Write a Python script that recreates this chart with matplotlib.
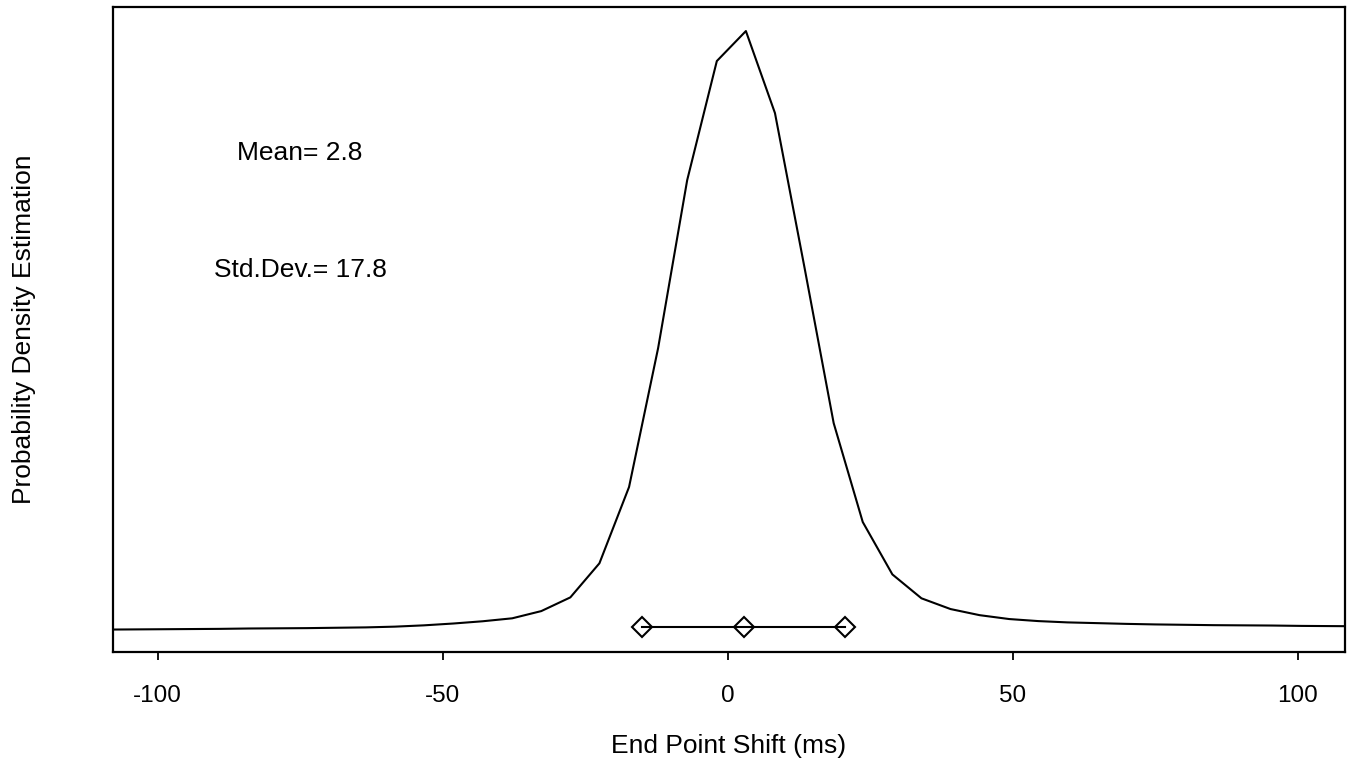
import matplotlib
matplotlib.use("Agg")
import matplotlib.pyplot as plt

plt.rcParams['font.family'] = ['Liberation Sans', 'DejaVu Sans']

# Estimated density curve (End Point Shift in ms vs. density)
shift_ms = [-109.7, -104.6, -99.4, -94.3, -89.2, -84.0, -78.9, -73.8, -68.7, -63.5,
            -58.4, -53.3, -48.1, -43.0, -37.8, -32.7, -27.6, -22.5, -17.3, -12.2,
            -7.1, -1.9, 3.2, 8.3, 13.5, 18.6, 23.7, 28.9, 34.0, 39.1,
            44.2, 49.4, 54.5, 59.6, 64.8, 69.9, 75.0, 80.1, 85.3, 90.4,
            95.5, 100.7, 105.8, 110.9]
density = [0.00008, 0.00009, 0.00010, 0.00011, 0.00012, 0.00014, 0.00015, 0.00016, 0.00018, 0.00020,
           0.00024, 0.00031, 0.00041, 0.00053, 0.00069, 0.00108, 0.00182, 0.00366, 0.00778, 0.01528,
           0.02435, 0.03078, 0.03240, 0.02797, 0.01960, 0.01123, 0.00589, 0.00306, 0.00177, 0.00119,
           0.00086, 0.00065, 0.00054, 0.00047, 0.00043, 0.00039, 0.00036, 0.00034, 0.00032, 0.00031,
           0.00030, 0.00028, 0.00027, 0.00026]

# Mean and +/- one standard deviation markers
mean_val = 2.8
std_val = 17.8
marker_x = [mean_val - std_val, mean_val, mean_val + std_val]
marker_y = [0.0002, 0.0002, 0.0002]

x_ticks = [-100, -50, 0, 50, 100]
x_label = "End Point Shift (ms)"
y_label = "Probability Density Estimation"
mean_text = "Mean= 2.8"
std_text = "Std.Dev.= 17.8"

fig = plt.figure(figsize=(13.49, 7.66), dpi=100)
ax = fig.add_axes([0.0835, 0.1488, 0.9135, 0.8421])

ax.plot(shift_ms, density, color='black', linewidth=1.5)
ax.plot(marker_x, marker_y, color='black', linewidth=1.5, marker='D',
        markersize=10, markerfacecolor='none', markeredgecolor='black',
        markeredgewidth=1.5)

ax.set_xlim(-107.9, 108.3)
ax.set_ylim(-0.00113, 0.0337)

ax.set_xticks(x_ticks)
ax.set_xticklabels([str(t) for t in x_ticks])
ax.set_yticks([])
ax.tick_params(axis='x', direction='out', length=6, width=1.3, pad=17.5, labelsize=17.5)

for sp in ax.spines.values():
    sp.set_linewidth(1.6)
    sp.set_color('black')

ax.set_xlabel(x_label, fontsize=19, labelpad=20)
ax.set_ylabel(y_label, fontsize=19, labelpad=55)

ax.text(-75, 0.0258, mean_text, ha='center', va='center', fontsize=19)
ax.text(-75, 0.0195, std_text, ha='center', va='center', fontsize=19)

fig.savefig("out.png", dpi=100, facecolor='white')
